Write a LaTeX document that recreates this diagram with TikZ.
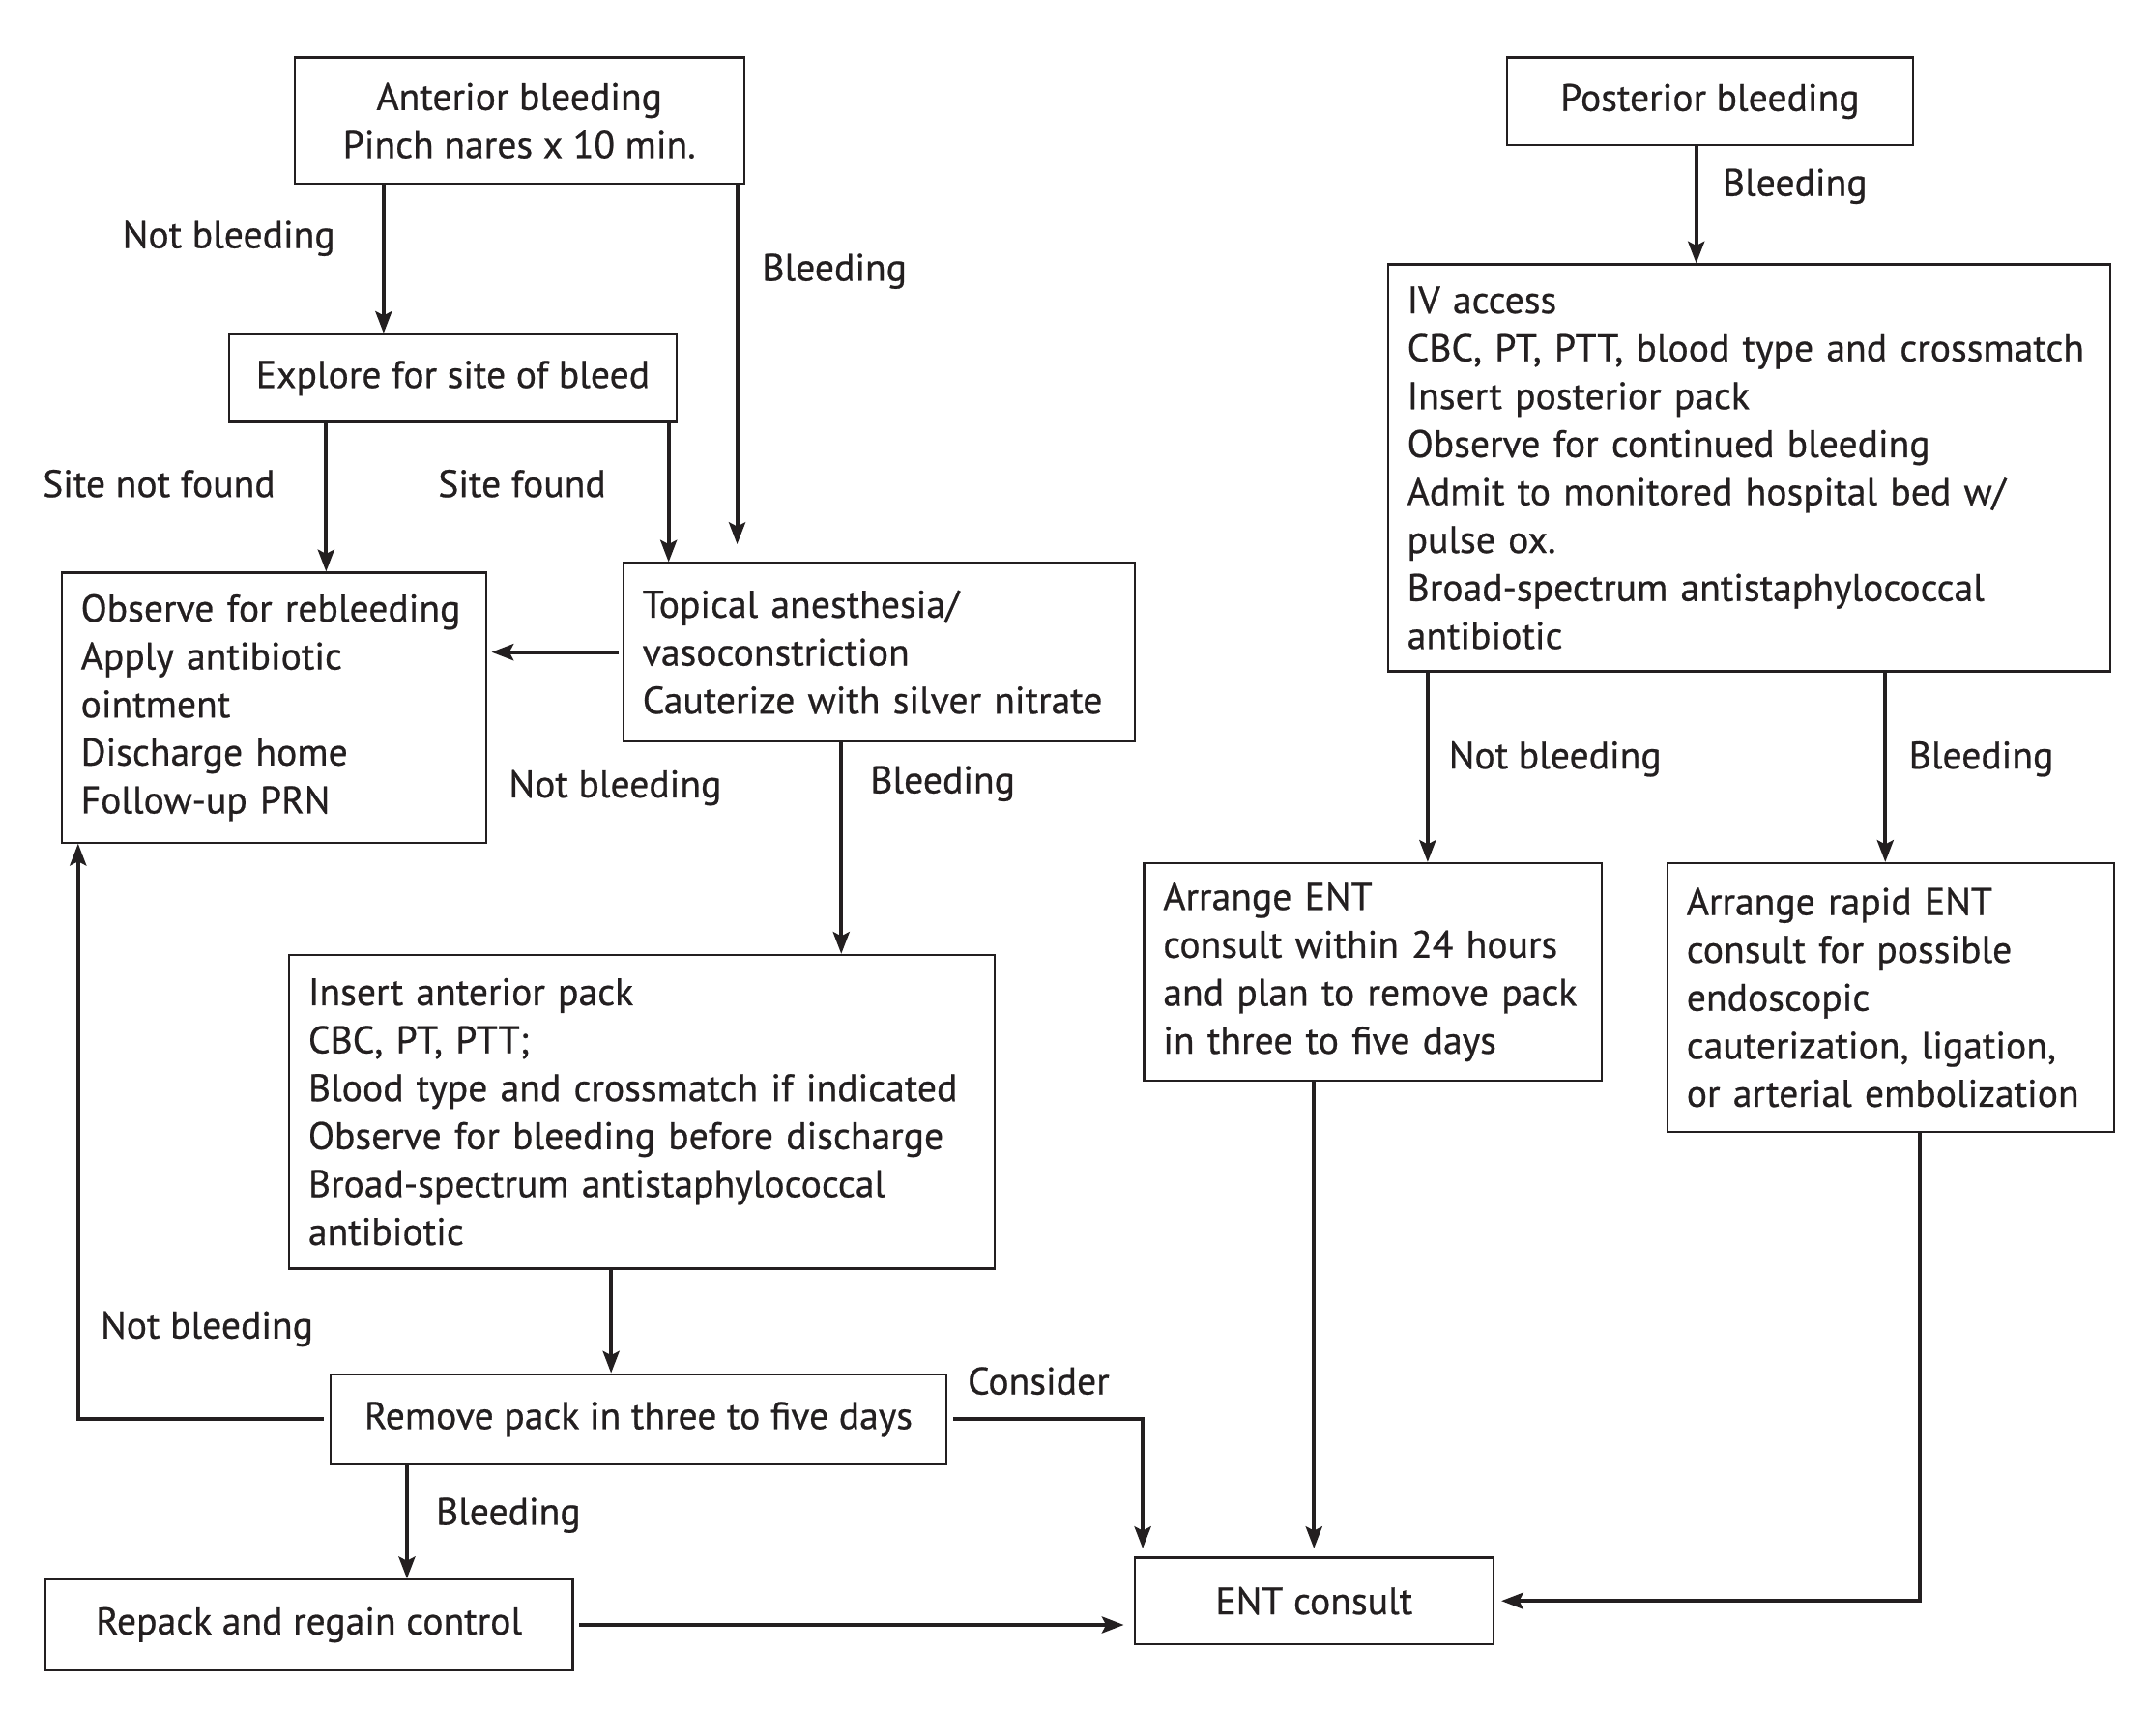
\documentclass[tikz,border=0pt]{standalone}
\usepackage{fontspec}
\setmainfont{PT Sans}[FakeBold=0.6]
\usetikzlibrary{arrows.meta}
\definecolor{ink}{HTML}{231F20}
\begin{document}
\begin{tikzpicture}[x=1pt,y=-1pt,
 box/.style={draw=ink, line width=1.5pt, inner xsep=14pt, inner ysep=0pt, text=ink, font=\fontsize{28}{35}\selectfont},
 cbox/.style={box, align=center},
 lbox/.style={box, align=left},
 lab/.style={text=ink, inner sep=0pt, font=\fontsize{28}{35}\selectfont},
 arr/.style={draw=ink, line width=2.8pt, -{Stealth[length=16pt,width=12pt,inset=3pt]}}]
\useasboundingbox[fill=white] (0,0) rectangle (1567,1267);

\node[cbox, minimum width=328pt, minimum height=92pt] (ant) at (379,88) {Anterior bleeding\\Pinch nares x 10 min.};
\node[cbox, minimum width=327pt, minimum height=64pt] (expl) at (330.5,276) {Explore for site of bleed};
\node[lbox, text width=282pt, minimum height=197pt] (obs) at (200,516.5) {Observe for rebleeding\\Apply antibiotic\\ointment\\Discharge home\\Follow-up PRN};
\node[lbox, text width=345pt, minimum height=130pt] (top) at (641.5,476) {Topical anesthesia/\\vasoconstriction\\Cauterize with silver nitrate};
\node[lbox, text width=487pt, minimum height=229pt] (ins) at (468.5,811.5) {Insert anterior pack\\CBC, PT, PTT;\\Blood type and crossmatch if indicated\\Observe for bleeding before discharge\\Broad-spectrum antistaphylococcal\\antibiotic};
\node[cbox, minimum width=450pt, minimum height=66pt] (rem) at (466,1036) {Remove pack in three to five days};
\node[cbox, minimum width=385pt, minimum height=66pt] (rep) at (225.5,1186) {Repack and regain control};
\node[cbox, minimum width=262pt, minimum height=63pt] (ent) at (959,1168.5) {ENT consult};
\node[cbox, minimum width=296pt, minimum height=64pt] (post) at (1248,74) {Posterior bleeding};
\node[lbox, text width=499pt, minimum height=297pt] (iv) at (1276.5,341.5) {IV access\\CBC, PT, PTT, blood type and crossmatch\\Insert posterior pack\\Observe for continued bleeding\\Admit to monitored hospital bed w/\\pulse ox.\\Broad-spectrum antistaphylococcal\\antibiotic};
\node[lbox, text width=306pt, minimum height=159pt] (aent) at (1002,709.5) {Arrange ENT\\consult within 24 hours\\and plan to remove pack\\in three to five days};
\node[lbox, text width=298pt, minimum height=196pt] (rap) at (1380,728) {Arrange rapid ENT\\consult for possible\\endoscopic\\cauterization, ligation,\\or arterial embolization};

\node[lab] (l1) at (167,174) {Not bleeding};
\node[lab] (l2) at (609,198) {Bleeding};
\node[lab] (l3) at (116,353) {Site not found};
\node[lab] (l4) at (381,353) {Site found};
\node[lab] (l5) at (449,575) {Not bleeding};
\node[lab] (l6) at (688,572) {Bleeding};
\node[lab] (l7) at (151,970) {Not bleeding};
\node[lab] (l8) at (371,1106) {Bleeding};
\node[lab] (l9) at (758,1008) {Consider};
\node[lab] (l10) at (1310,136) {Bleeding};
\node[lab] (l11) at (1135,554) {Not bleeding};
\node[lab] (l12) at (1446,554) {Bleeding};

\draw[arr] (280,0 |- ant.south) -- (280,0 |- expl.north);
\draw[arr, shorten >=13pt] (538,0 |- ant.south) -- (538,0 |- top.north);
\draw[arr] (238,0 |- expl.south) -- (238,0 |- obs.north);
\draw[arr] (488,0 |- expl.south) -- (488,0 |- top.north);
\draw[arr, shorten <=3pt, shorten >=3pt] (top.west) -- (obs.east |- top.west);
\draw[arr] (614,0 |- top.south) -- (614,0 |- ins.north);
\draw[arr] (446,0 |- ins.south) -- (446,0 |- rem.north);
\draw[arr, shorten <=4pt] (rem.west) -| (57,0 |- obs.south);
\draw[arr] (297,0 |- rem.south) -- (297,0 |- rep.north);
\draw[arr, shorten <=4pt, shorten >=6pt] (rem.east) -| (834,0 |- ent.north);
\draw[arr, shorten <=4pt, shorten >=7pt] (rep.east) -- (ent.west |- rep.east);
\draw[arr] (1238,0 |- post.south) -- (1238,0 |- iv.north);
\draw[arr] (1042,0 |- iv.south) -- (1042,0 |- aent.north);
\draw[arr] (1376,0 |- iv.south) -- (1376,0 |- rap.north);
\draw[arr, shorten >=6pt] (959,0 |- aent.south) -- (959,0 |- ent.north);
\draw[arr, shorten >=5pt] (1401,0 |- rap.south) |- (ent.east);
\end{tikzpicture}
\end{document}
